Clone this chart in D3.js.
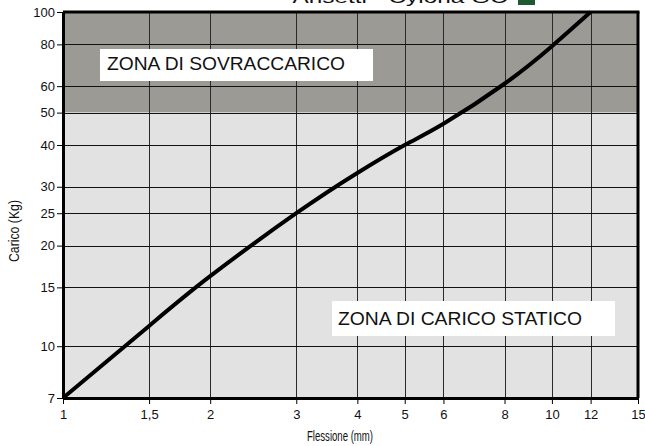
<!DOCTYPE html>
<html><head><meta charset="utf-8">
<script src="https://cdn.jsdelivr.net/npm/d3@7"></script>
<style>body{margin:0;background:#fff}svg{display:block}text{font-family:"Liberation Sans",Arial,sans-serif}</style>
</head><body><svg id="c" width="645" height="446"></svg>
<script>
const xTicks = [1, 1.5, 2, 3, 4, 5, 6, 8, 10, 12, 15];
const xTickLabels = ["1", "1,5", "2", "3", "4", "5", "6", "8", "10", "12", "15"];
const yTicks = [7, 10, 15, 20, 25, 30, 40, 50, 60, 80, 100];
const flessione = [1, 1.5, 2, 3, 4, 5, 6, 8, 10, 12];
const carico = [7, 11.5, 16.2, 25, 33, 40, 46.3, 61, 79, 100];
const zoneLimit = 50;
const title = "Ansetti - Cylona GC";

const svg = d3.select("#c");
const L = 63, R = 638, T = 12, B = 398;
const x = d3.scaleLog().domain([1, 15]).range([L, R]);
const y = d3.scaleLog().domain([7, 100]).range([B, T]);

// zones
svg.append("rect").attr("x", L).attr("y", y(100)).attr("width", R - L).attr("height", y(zoneLimit) - y(100)).attr("fill", "#9c9a95");
svg.append("rect").attr("x", L).attr("y", y(zoneLimit)).attr("width", R - L).attr("height", y(7) - y(zoneLimit)).attr("fill", "#e2e2e2");

// grid
const g = svg.append("g");
g.selectAll(".vx").data(xTicks.slice(1, -1)).join("line")
  .attr("x1", d => Math.round(x(d)) + 0.5).attr("x2", d => Math.round(x(d)) + 0.5).attr("y1", T).attr("y2", B)
  .attr("stroke", "#2a2a2a").attr("stroke-width", 1);
g.selectAll(".hy").data(yTicks.slice(1, -1)).join("line")
  .attr("y1", d => Math.round(y(d)) + 0.5).attr("y2", d => Math.round(y(d)) + 0.5).attr("x1", L).attr("x2", R)
  .attr("stroke", "#111").attr("stroke-width", 1);

// annotation boxes
svg.append("rect").attr("x", 100).attr("y", 49).attr("width", 273).attr("height", 32).attr("fill", "#fff");
svg.append("text").attr("x", 107).attr("y", 70).attr("font-size", 18).attr("textLength", 238).attr("lengthAdjust", "spacingAndGlyphs").attr("fill", "#111").text("ZONA DI SOVRACCARICO");
svg.append("rect").attr("x", 332).attr("y", 301).attr("width", 283).attr("height", 35).attr("fill", "#fff");
svg.append("text").attr("x", 338).attr("y", 325).attr("font-size", 18.5).attr("textLength", 244).attr("lengthAdjust", "spacingAndGlyphs").attr("fill", "#111").text("ZONA DI CARICO STATICO");

// border
svg.append("line").attr("x1", L).attr("x2", R + 1.5).attr("y1", T).attr("y2", T).attr("stroke", "#000").attr("stroke-width", 3);
svg.append("line").attr("x1", R).attr("x2", R).attr("y1", T).attr("y2", B).attr("stroke", "#000").attr("stroke-width", 3);

// curve
const line = d3.line().x((d, i) => x(flessione[i])).y(d => y(d)).curve(d3.curveNatural);
svg.append("path").attr("d", line(carico)).attr("fill", "none").attr("stroke", "#000").attr("stroke-width", 4).attr("stroke-linejoin", "round");

// axes
const xAxis = d3.axisBottom(x).tickValues(xTicks).tickFormat((d, i) => xTickLabels[i]).tickSize(6).tickSizeOuter(0).tickPadding(6);
const yAxis = d3.axisLeft(y).tickValues(yTicks).tickFormat(d3.format("d")).tickSize(6).tickSizeOuter(0).tickPadding(2);
const ax = svg.append("g").attr("transform", `translate(0,${B})`).call(xAxis);
const ay = svg.append("g").attr("transform", `translate(${L},0)`).call(yAxis);
[ax, ay].forEach(a => {
  a.select(".domain").attr("stroke", "#000").attr("stroke-width", 3);
  a.selectAll(".tick line").attr("stroke", "#000").attr("stroke-width", 1);
  a.selectAll("text").attr("font-size", 13).attr("fill", "#111").attr("font-family", "Liberation Sans, Arial, sans-serif");
});

// axis titles
svg.append("text").attr("x", 340).attr("y", 441).attr("text-anchor", "middle").attr("font-size", 14).attr("textLength", 66).attr("lengthAdjust", "spacingAndGlyphs").attr("fill", "#111").text("Flessione (mm)");
svg.append("text").attr("transform", "translate(19,231) rotate(-90)").attr("text-anchor", "middle").attr("font-size", 14).attr("textLength", 62).attr("lengthAdjust", "spacingAndGlyphs").attr("fill", "#111").text("Carico (Kg)");

// clipped title
svg.append("text").attr("x", 400).attr("y", 3).attr("text-anchor", "middle").attr("font-size", 16).attr("textLength", 215).attr("lengthAdjust", "spacingAndGlyphs").attr("fill", "#111").text(title);
svg.append("rect").attr("x", 518).attr("y", 0).attr("width", 17).attr("height", 5).attr("fill", "#1d5a32");
</script></body></html>
